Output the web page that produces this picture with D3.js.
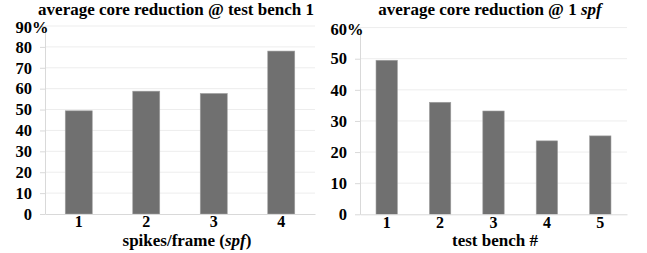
<!DOCTYPE html>
<html>
<head>
<meta charset="utf-8">
<script src="https://cdn.jsdelivr.net/npm/d3@7"></script>
<style>
  body { margin: 0; background: #fff; }
  text { font-family: "Liberation Serif", "Times New Roman", serif; font-weight: bold; fill: #000; }
</style>
</head>
<body>
<svg id="chart" width="647" height="253"></svg>
<script>
// left panel: reduction vs spikes/frame
const spfCategories = ["1", "2", "3", "4"];
const spfValues = [49.4, 58.8, 57.7, 78];
const spfTicks = [0, 10, 20, 30, 40, 50, 60, 70, 80, 90];

// right panel: reduction vs test bench
const benchCategories = ["1", "2", "3", "4", "5"];
const benchValues = [49.5, 36, 33.2, 23.6, 25.2];
const benchTicks = [0, 10, 20, 30, 40, 50, 60];

const svg = d3.select("#chart");

function panel(opts) {
  const { left, right, top, bottom, cats, vals, ticks, max } = opts;
  const g = svg.append("g");

  const x = d3.scaleBand().domain(cats).range([left, right]).paddingInner(0.6).paddingOuter(0.3);
  const y = d3.scaleLinear().domain([0, max]).range([bottom, top]);

  // gridlines
  g.append("g")
    .selectAll("line")
    .data(ticks.filter(d => d > 0))
    .enter().append("line")
    .attr("x1", left).attr("x2", right)
    .attr("y1", d => y(d)).attr("y2", d => y(d))
    .attr("stroke", "#ededed").attr("stroke-width", 1);

  // y axis
  const ya = g.append("g")
    .attr("transform", `translate(${left},0)`)
    .call(d3.axisLeft(y).tickValues(ticks).tickSize(5).tickSizeOuter(0).tickPadding(8));
  ya.select(".domain").attr("stroke", "#d9d9d9");
  ya.selectAll(".tick line").attr("stroke", "#d9d9d9");
  ya.selectAll("text").style("font-size", "16.5px").attr("fill", "#000");
  // top label sits a touch lower, with a % after it
  ya.selectAll(".tick").filter(d => d === max).select("text").attr("dy", "0.42em");
  ya.append("text")
    .attr("x", -13).attr("y", y(max)).attr("dy", "0.42em")
    .attr("text-anchor", "start")
    .style("font-size", "16.5px")
    .text("%");

  // bars
  g.selectAll("rect.bar")
    .data(vals)
    .enter().append("rect")
    .attr("class", "bar")
    .attr("x", (d, i) => x(cats[i]))
    .attr("width", x.bandwidth())
    .attr("y", d => y(d))
    .attr("height", d => bottom - y(d))
    .attr("fill", "#707070")
    .attr("stroke", "#a0a0a0")
    .attr("stroke-width", 0.6);

  // x axis
  const xa = g.append("g")
    .attr("transform", `translate(0,${bottom})`)
    .call(d3.axisBottom(x).tickSize(0).tickPadding(2));
  xa.select(".domain").attr("stroke", "#d9d9d9");
  xa.selectAll("text").style("font-size", "16px").attr("fill", "#000");

  return g;
}

const gl = panel({ left: 45, right: 315, top: 26, bottom: 214, cats: spfCategories, vals: spfValues, ticks: spfTicks, max: 90 });
gl.append("text").attr("x", 176).attr("y", 14.5).attr("text-anchor", "middle")
  .style("font-size", "17px").text("average core reduction @ test bench 1");
gl.append("text").attr("x", 187).attr("y", 246).attr("text-anchor", "middle")
  .style("font-size", "17px")
  .call(t => {
    t.append("tspan").text("spikes/frame (");
    t.append("tspan").style("font-style", "italic").text("spf");
    t.append("tspan").text(")");
  });

const gr = panel({ left: 360, right: 627, top: 27.6, bottom: 214.3, cats: benchCategories, vals: benchValues, ticks: benchTicks, max: 60 });
gr.append("text").attr("x", 490).attr("y", 14.5).attr("text-anchor", "middle")
  .style("font-size", "17px")
  .call(t => {
    t.append("tspan").text("average core reduction @ 1 ");
    t.append("tspan").style("font-style", "italic").text("spf");
  });
gr.append("text").attr("x", 495).attr("y", 246).attr("text-anchor", "middle")
  .style("font-size", "17px").text("test bench #");
</script>
</body>
</html>
